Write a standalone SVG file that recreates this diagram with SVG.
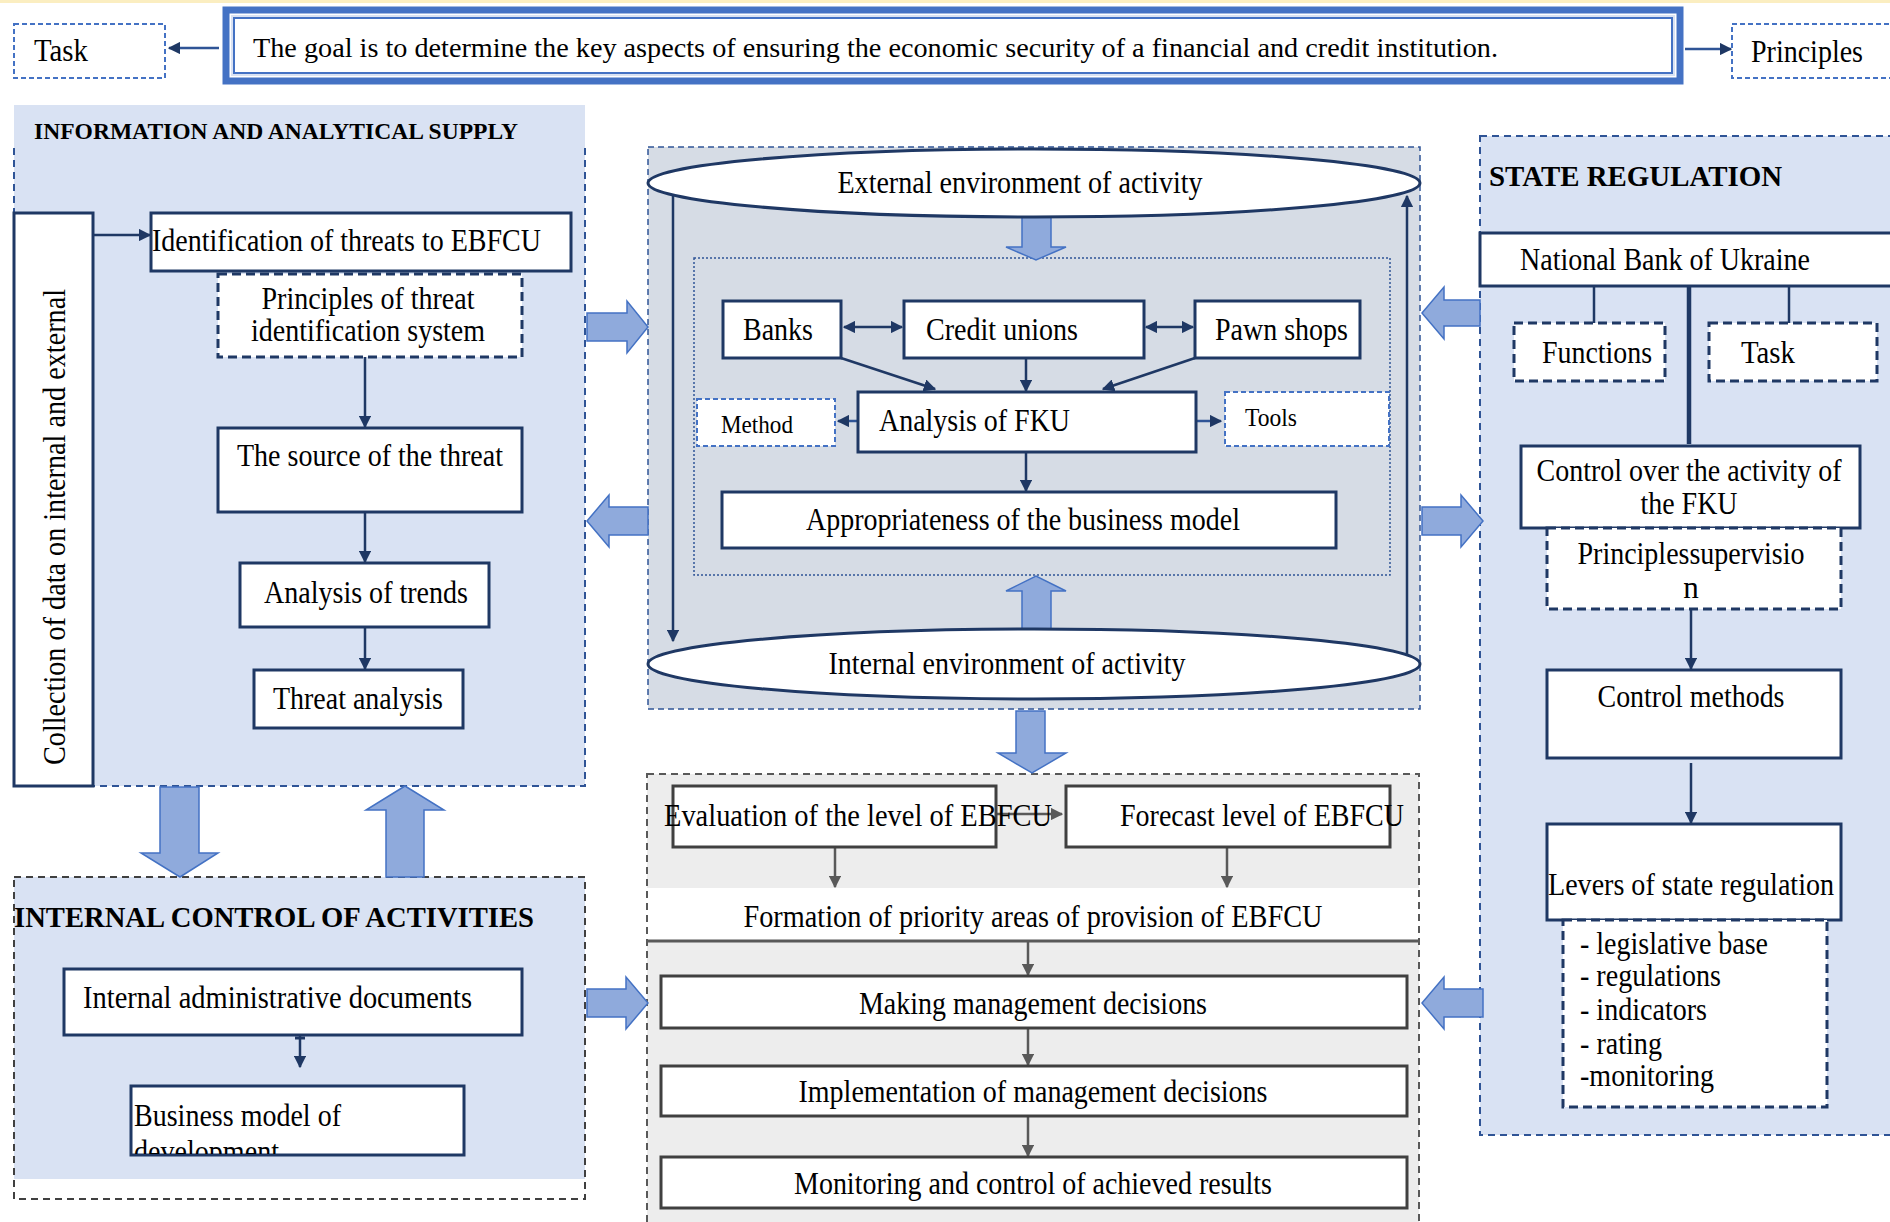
<svg xmlns="http://www.w3.org/2000/svg" width="1890" height="1222" viewBox="0 0 1890 1222">
<style>
.t{font-family:"Liberation Serif","Times New Roman",serif;font-size:31px;fill:#000}
.b{font-weight:bold}
.s{font-size:25px}
.m{text-anchor:middle}
.box{fill:#fff;stroke:#1f3864;stroke-width:3}
.dbox{fill:#fff;stroke:#1f3864;stroke-width:3;stroke-dasharray:9 5}
.lbox{fill:#fff;stroke:#4472c4;stroke-width:2;stroke-dasharray:5 3}
.gbox{fill:#fff;stroke:#404040;stroke-width:3}
.conn{stroke:#1f3864;stroke-width:2.5;fill:none}
.gconn{stroke:#595959;stroke-width:2.5;fill:none}
.barrow{fill:#8faadc;stroke:#4472c4;stroke-width:1.5}
.panel{fill:#d9e2f3;stroke:none}
.pborder{fill:none;stroke:#2f5496;stroke-width:2;stroke-dasharray:7 5}
</style>
<defs>
<marker id="ah" viewBox="0 0 10 10" refX="9" refY="5" markerWidth="5" markerHeight="5" orient="auto-start-reverse"><path d="M0,0 L10,5 L0,10 z" fill="#1f3864"/></marker>
<marker id="gh" viewBox="0 0 10 10" refX="9" refY="5" markerWidth="5" markerHeight="5" orient="auto-start-reverse"><path d="M0,0 L10,5 L0,10 z" fill="#595959"/></marker>
<clipPath id="bmclip"><rect x="131" y="1086" width="333" height="68"/></clipPath>
</defs>

<rect x="0" y="0" width="1890" height="3" fill="#fbeec1"/>

<!-- Panels / backgrounds -->
<g id="panel-info">
<rect class="panel" x="14" y="105" width="571" height="681"/>
<path class="pborder" d="M14,148 V213 M585,148 V786 H93"/>
<text class="t b" x="34" y="139" style="font-size:24px" textLength="484" lengthAdjust="spacingAndGlyphs">INFORMATION AND ANALYTICAL SUPPLY</text>
</g>
<g id="panel-internal">
<rect class="panel" x="14" y="877" width="571" height="302"/>
<rect x="14" y="877" width="571" height="322" fill="none" stroke="#404040" stroke-width="2" stroke-dasharray="7 5"/>
<text class="t b" x="14" y="927" style="font-size:30px" textLength="520" lengthAdjust="spacingAndGlyphs">INTERNAL CONTROL OF ACTIVITIES</text>
</g>
<g id="panel-middle">
<rect x="648" y="147" width="772" height="562" fill="#d6dce5" stroke="#2f5496" stroke-width="1.5" stroke-dasharray="6 4"/>
<rect x="694" y="258" width="696" height="317" fill="none" stroke="#2f5496" stroke-width="1.5" stroke-dasharray="2 2"/>
</g>
<g id="panel-bottom">
<rect x="647" y="774" width="772" height="114" fill="#ededed"/>
<rect x="647" y="888" width="772" height="53" fill="#fff"/>
<rect x="647" y="941" width="772" height="290" fill="#ededed"/>
<rect x="647" y="774" width="772" height="460" fill="none" stroke="#595959" stroke-width="2" stroke-dasharray="7 5"/>
<line x1="647" y1="941" x2="1419" y2="941" stroke="#595959" stroke-width="3"/>
</g>
<g id="panel-state">
<rect class="panel" x="1480" y="136" width="420" height="999"/>
<rect x="1480" y="136" width="420" height="999" fill="none" stroke="#2f5496" stroke-width="2" stroke-dasharray="7 5"/>
<text class="t b" x="1489" y="186" style="font-size:30px" textLength="293" lengthAdjust="spacingAndGlyphs">STATE REGULATION</text>
</g>

<!-- Connectors -->
<g id="connectors">
<line x1="219" y1="48" x2="169" y2="48" stroke="#2f5496" stroke-width="2.5" marker-end="url(#ah)"/>
<line x1="1685" y1="49" x2="1731" y2="49" stroke="#2f5496" stroke-width="2.5" marker-end="url(#ah)"/>
<line class="conn" x1="93" y1="235" x2="150" y2="235" marker-end="url(#ah)"/>
<line class="conn" x1="365" y1="357" x2="365" y2="427" marker-end="url(#ah)"/>
<line class="conn" x1="365" y1="512" x2="365" y2="562" marker-end="url(#ah)"/>
<line class="conn" x1="365" y1="627" x2="365" y2="669" marker-end="url(#ah)"/>
<line class="conn" x1="300" y1="1035" x2="300" y2="1067" marker-end="url(#ah)"/>
<line x1="295" y1="1038" x2="305" y2="1038" stroke="#1f3864" stroke-width="3"/>
<line class="conn" x1="673" y1="196" x2="673" y2="641" marker-end="url(#ah)"/>
<line class="conn" x1="1407" y1="655" x2="1407" y2="196" marker-end="url(#ah)"/>
<line class="conn" x1="844" y1="327" x2="902" y2="327" marker-start="url(#ah)" marker-end="url(#ah)"/>
<line class="conn" x1="1146" y1="327" x2="1193" y2="327" marker-start="url(#ah)" marker-end="url(#ah)"/>
<line class="conn" x1="841" y1="358" x2="935" y2="389" stroke-width="2" marker-end="url(#ah)"/>
<line class="conn" x1="1026" y1="358" x2="1026" y2="391" stroke-width="2" marker-end="url(#ah)"/>
<line class="conn" x1="1195" y1="358" x2="1103" y2="389" stroke-width="2" marker-end="url(#ah)"/>
<line x1="858" y1="421" x2="838" y2="421" stroke="#2f5496" stroke-width="2.5" marker-end="url(#ah)"/>
<line x1="1196" y1="421" x2="1221" y2="421" stroke="#2f5496" stroke-width="2.5" marker-end="url(#ah)"/>
<line class="conn" x1="1026" y1="452" x2="1026" y2="491" stroke-width="2" marker-end="url(#ah)"/>
<line class="gconn" x1="996" y1="814" x2="1062" y2="814" marker-end="url(#gh)"/>
<line class="gconn" x1="835" y1="847" x2="835" y2="887" marker-end="url(#gh)"/>
<line class="gconn" x1="1227" y1="847" x2="1227" y2="887" marker-end="url(#gh)"/>
<line class="gconn" x1="1028" y1="941" x2="1028" y2="975" marker-end="url(#gh)"/>
<line class="gconn" x1="1028" y1="1028" x2="1028" y2="1065" marker-end="url(#gh)"/>
<line class="gconn" x1="1028" y1="1116" x2="1028" y2="1156" marker-end="url(#gh)"/>
<line class="conn" x1="1594" y1="286" x2="1594" y2="323"/>
<line class="conn" x1="1789" y1="286" x2="1789" y2="323"/>
<line x1="1689" y1="286" x2="1689" y2="444" stroke="#1f3864" stroke-width="4.5"/>
<line class="conn" x1="1691" y1="609" x2="1691" y2="669" marker-end="url(#ah)"/>
<line class="conn" x1="1691" y1="763" x2="1691" y2="823" marker-end="url(#ah)"/>
<!-- block arrows -->
<polygon class="barrow" points="587,313 627,313 627,301 648,327 627,353 627,341 587,341"/>
<polygon class="barrow" points="648,507 609,507 609,495 587,521 609,547 609,535 648,535"/>
<polygon class="barrow" points="1480,300 1444,300 1444,287 1422,313 1444,339 1444,326 1480,326"/>
<polygon class="barrow" points="1422,507 1461,507 1461,495 1483,521 1461,547 1461,535 1422,535"/>
<polygon class="barrow" points="587,989 626,989 626,977 648,1003 626,1029 626,1017 587,1017"/>
<polygon class="barrow" points="1483,989 1444,989 1444,977 1422,1003 1444,1029 1444,1017 1483,1017"/>
<polygon class="barrow" points="160,787 199,787 199,853 218,853 180,877 141,853 160,853"/>
<polygon class="barrow" points="386,877 386,810 366,810 405,786 444,810 424,810 424,877"/>
<polygon class="barrow" points="1022,215 1051,215 1051,247 1066,247 1036,260 1006,247 1022,247"/>
<polygon class="barrow" points="1022,629 1022,591 1006,591 1036,576 1066,591 1051,591 1051,629"/>
<polygon class="barrow" points="1016,711 1045,711 1045,753 1066,753 1032,773 998,753 1016,753"/>
</g>

<!-- Top -->
<g id="task-top">
<rect class="lbox" x="14" y="24" width="151" height="54"/>
<text class="t" x="34" y="61" textLength="54" lengthAdjust="spacingAndGlyphs">Task</text>
</g>
<g id="goal">
<rect x="226" y="10" width="1454" height="71" fill="#fff" stroke="#4472c4" stroke-width="7"/>
<rect x="232" y="16" width="1442" height="59" fill="none" stroke="#d9e2f3" stroke-width="2"/>
<rect x="234" y="18" width="1438" height="55" fill="none" stroke="#4472c4" stroke-width="2"/>
<text class="t" x="253" y="57" style="font-size:28px" textLength="1245" lengthAdjust="spacingAndGlyphs">The goal is to determine the key aspects of ensuring the economic security of a financial and credit institution.</text>
</g>
<g id="principles-top">
<rect class="lbox" x="1732" y="24" width="170" height="54"/>
<text class="t" x="1751" y="62" textLength="112" lengthAdjust="spacingAndGlyphs">Principles</text>
</g>

<!-- Left panel nodes -->
<g id="collection">
<rect class="box" x="14" y="213" width="79" height="573"/>
<text class="t" transform="translate(65,527) rotate(-90)" text-anchor="middle" style="font-size:31px" textLength="476" lengthAdjust="spacingAndGlyphs">Collection of data on internal and external</text>
</g>
<g id="identification">
<rect class="box" x="151" y="213" width="420" height="58"/>
<text class="t" x="152" y="251" textLength="389" lengthAdjust="spacingAndGlyphs">Identification of threats to EBFCU</text>
</g>
<g id="principles-threat">
<rect class="dbox" x="218" y="274" width="304" height="83"/>
<text class="t m" x="368" y="309" textLength="213" lengthAdjust="spacingAndGlyphs">Principles of threat</text>
<text class="t m" x="368" y="341" textLength="234" lengthAdjust="spacingAndGlyphs">identification system</text>
</g>
<g id="source">
<rect class="box" x="218" y="428" width="304" height="84"/>
<text class="t m" x="370" y="466" textLength="266" lengthAdjust="spacingAndGlyphs">The source of the threat</text>
</g>
<g id="trends">
<rect class="box" x="240" y="563" width="249" height="64"/>
<text class="t m" x="366" y="603" textLength="204" lengthAdjust="spacingAndGlyphs">Analysis of trends</text>
</g>
<g id="threat-analysis">
<rect class="box" x="254" y="670" width="209" height="58"/>
<text class="t m" x="358" y="709" textLength="170" lengthAdjust="spacingAndGlyphs">Threat analysis</text>
</g>
<g id="internal-docs">
<rect class="box" x="64" y="969" width="458" height="66"/>
<text class="t" x="83" y="1008" textLength="389" lengthAdjust="spacingAndGlyphs">Internal administrative documents</text>
</g>
<g id="business-model">
<rect class="box" x="131" y="1086" width="333" height="69"/>
<g clip-path="url(#bmclip)">
<text class="t" x="134" y="1126" textLength="207" lengthAdjust="spacingAndGlyphs">Business model of</text>
<text class="t" x="134" y="1162" textLength="145" lengthAdjust="spacingAndGlyphs">development</text>
</g>
</g>

<!-- Middle -->
<g id="external-env">
<ellipse cx="1034" cy="183" rx="386" ry="34" fill="#fff" stroke="#1f3864" stroke-width="3"/>
<text class="t m" x="1020" y="193" textLength="365" lengthAdjust="spacingAndGlyphs">External environment of activity</text>
</g>
<g id="internal-env">
<ellipse cx="1034" cy="664" rx="386" ry="35" fill="#fff" stroke="#1f3864" stroke-width="3"/>
<text class="t m" x="1007" y="674" textLength="357" lengthAdjust="spacingAndGlyphs">Internal environment of activity</text>
</g>
<g id="banks">
<rect class="box" x="723" y="301" width="118" height="57"/>
<text class="t" x="743" y="340" textLength="70" lengthAdjust="spacingAndGlyphs">Banks</text>
</g>
<g id="credit-unions">
<rect class="box" x="904" y="301" width="240" height="57"/>
<text class="t" x="926" y="340" textLength="152" lengthAdjust="spacingAndGlyphs">Credit unions</text>
</g>
<g id="pawn-shops">
<rect class="box" x="1195" y="301" width="165" height="57"/>
<text class="t" x="1215" y="340" textLength="133" lengthAdjust="spacingAndGlyphs">Pawn shops</text>
</g>
<g id="analysis-fku">
<rect class="box" x="858" y="392" width="338" height="60"/>
<text class="t" x="879" y="431" textLength="191" lengthAdjust="spacingAndGlyphs">Analysis of FKU</text>
</g>
<g id="method">
<rect class="lbox" x="697" y="399" width="138" height="47"/>
<text class="t s" x="721" y="433" textLength="72" lengthAdjust="spacingAndGlyphs">Method</text>
</g>
<g id="tools">
<rect class="lbox" x="1225" y="392" width="164" height="54"/>
<text class="t s" x="1245" y="426" textLength="52" lengthAdjust="spacingAndGlyphs">Tools</text>
</g>
<g id="appropriateness">
<rect class="box" x="722" y="492" width="614" height="56"/>
<text class="t m" x="1023" y="530" textLength="434" lengthAdjust="spacingAndGlyphs">Appropriateness of the business model</text>
</g>

<!-- Bottom middle -->
<g id="evaluation">
<rect class="gbox" x="673" y="786" width="323" height="61"/>
<text class="t" x="664" y="826" textLength="388" lengthAdjust="spacingAndGlyphs">Evaluation of the level of EBFCU</text>
</g>
<g id="forecast">
<rect class="gbox" x="1066" y="786" width="324" height="61"/>
<text class="t" x="1120" y="826" textLength="284" lengthAdjust="spacingAndGlyphs">Forecast level of EBFCU</text>
</g>
<g id="formation">
<text class="t m" x="1033" y="927" textLength="579" lengthAdjust="spacingAndGlyphs">Formation of priority areas of provision of EBFCU</text>
</g>
<g id="making">
<rect class="gbox" x="661" y="976" width="746" height="52"/>
<text class="t m" x="1033" y="1014" textLength="348" lengthAdjust="spacingAndGlyphs">Making management decisions</text>
</g>
<g id="implementation">
<rect class="gbox" x="661" y="1066" width="746" height="50"/>
<text class="t m" x="1033" y="1102" textLength="469" lengthAdjust="spacingAndGlyphs">Implementation of management decisions</text>
</g>
<g id="monitoring">
<rect class="gbox" x="661" y="1157" width="746" height="51"/>
<text class="t m" x="1033" y="1194" textLength="478" lengthAdjust="spacingAndGlyphs">Monitoring and control of achieved results</text>
</g>

<!-- Right panel -->
<g id="nbu">
<rect class="box" x="1480" y="233" width="420" height="53"/>
<text class="t" x="1520" y="270" textLength="290" lengthAdjust="spacingAndGlyphs">National Bank of Ukraine</text>
</g>
<g id="functions">
<rect class="dbox" x="1514" y="323" width="151" height="58"/>
<text class="t" x="1542" y="363" textLength="110" lengthAdjust="spacingAndGlyphs">Functions</text>
</g>
<g id="task-right">
<rect class="dbox" x="1709" y="323" width="168" height="58"/>
<text class="t" x="1741" y="363" textLength="54" lengthAdjust="spacingAndGlyphs">Task</text>
</g>
<g id="control-fku">
<rect class="box" x="1521" y="446" width="339" height="82"/>
<text class="t m" x="1689" y="481" textLength="305" lengthAdjust="spacingAndGlyphs">Control over the activity of</text>
<text class="t m" x="1689" y="514" textLength="97" lengthAdjust="spacingAndGlyphs">the FKU</text>
</g>
<g id="principles-supervision">
<rect class="dbox" x="1547" y="528" width="294" height="81"/>
<text class="t m" x="1691" y="564" textLength="227" lengthAdjust="spacingAndGlyphs">Principlessupervisio</text>
<text class="t m" x="1691" y="598">n</text>
</g>
<g id="control-methods">
<rect class="box" x="1547" y="670" width="294" height="88"/>
<text class="t m" x="1691" y="707" textLength="187" lengthAdjust="spacingAndGlyphs">Control methods</text>
</g>
<g id="levers">
<rect class="box" x="1547" y="824" width="294" height="96"/>
<text class="t m" x="1691" y="895" textLength="286" lengthAdjust="spacingAndGlyphs">Levers of state regulation</text>
</g>
<g id="levers-list">
<rect class="dbox" x="1563" y="920" width="264" height="187"/>
<text class="t" x="1580" y="954" textLength="188" lengthAdjust="spacingAndGlyphs">- legislative base</text>
<text class="t" x="1580" y="986" textLength="141" lengthAdjust="spacingAndGlyphs">- regulations</text>
<text class="t" x="1580" y="1020" textLength="127" lengthAdjust="spacingAndGlyphs">- indicators</text>
<text class="t" x="1580" y="1054" textLength="82" lengthAdjust="spacingAndGlyphs">- rating</text>
<text class="t" x="1580" y="1086" textLength="134" lengthAdjust="spacingAndGlyphs">-monitoring</text>
</g>
</svg>
